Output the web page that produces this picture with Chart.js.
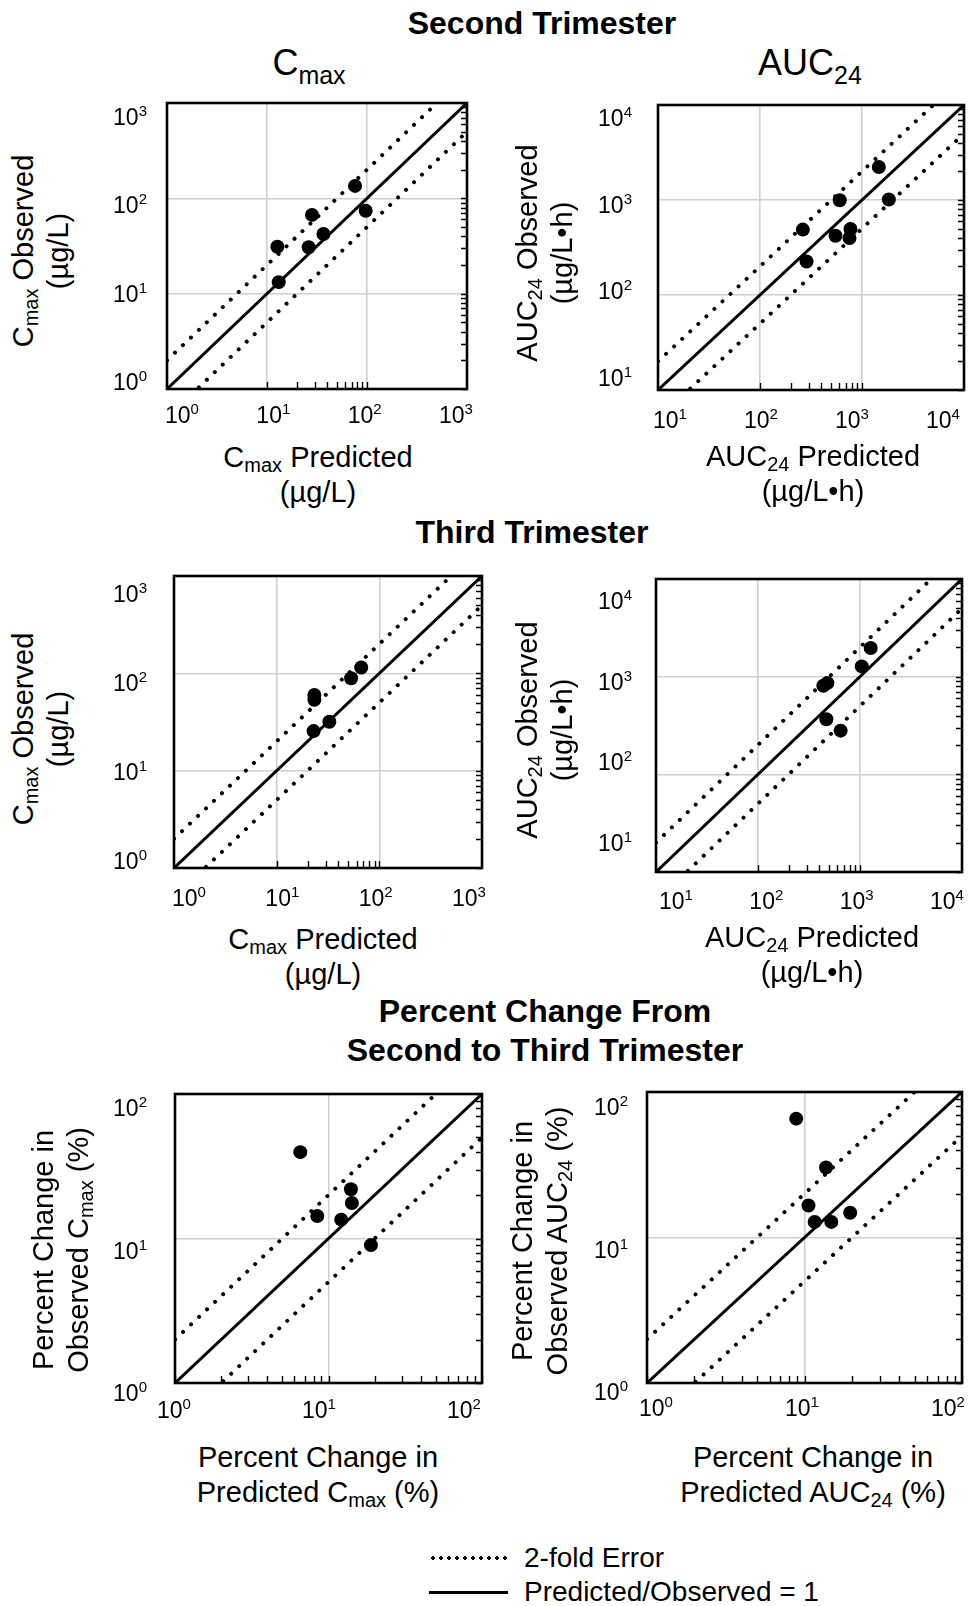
<!DOCTYPE html>
<html>
<head>
<meta charset="utf-8">
<script src="https://cdn.jsdelivr.net/npm/chart.js@4.4.1/dist/chart.umd.min.js"></script>
<style>
  html, body { margin: 0; padding: 0; overflow: hidden; background: #fff; }
  #page { position: relative; width: 970px; height: 1606px; overflow: hidden; background: #fff; }
  canvas { position: absolute; }
  .t { position: absolute; font-family: "Liberation Sans", Arial, sans-serif; color: #000; white-space: nowrap; text-align: center; }
  .h1 { font-size: 32px; font-weight: bold; line-height: 40px; width: 600px; }
  .hd { font-size: 36px; line-height: 44px; width: 200px; }
  .hs { font-size: 25px; line-height: 0; position: relative; top: 9px; }
  .ax { font-size: 29px; line-height: 35px; width: 360px; height: 70px; }
  .s { font-size: 20px; line-height: 0; position: relative; top: 5px; }
  .rot { transform: rotate(-90deg); }
  .leg { position: absolute; }
  .dots { background: radial-gradient(circle at center, #000 1.6px, rgba(0,0,0,0) 2.1px); background-size: 8px 4px; background-repeat: repeat-x; }
  .lt { font-size: 28px; line-height: 34px; text-align: left; }
</style>
</head>
<body>
<div id="page">
  <div class="t h1" style="left:242px;top:3px">Second Trimester</div>
  <div class="t hd" style="left:209px;top:41px">C<span class="hs">max</span></div>
  <div class="t hd" style="left:710px;top:41px">AUC<span class="hs">24</span></div>
  <div class="t h1" style="left:232px;top:512px">Third Trimester</div>
  <div class="t h1" style="left:245px;top:992px;line-height:39px">Percent Change From<br>Second to Third Trimester</div>

  <!-- x axis titles -->
  <div class="t ax" style="left:138px;top:440px">C<span class="s">max</span> Predicted<br>(µg/L)</div>
  <div class="t ax" style="left:633px;top:439px">AUC<span class="s">24</span> Predicted<br>(µg/L•h)</div>
  <div class="t ax" style="left:143px;top:922px">C<span class="s">max</span> Predicted<br>(µg/L)</div>
  <div class="t ax" style="left:632px;top:920px">AUC<span class="s">24</span> Predicted<br>(µg/L•h)</div>
  <div class="t ax" style="left:138px;top:1440px">Percent Change in<br>Predicted C<span class="s">max</span> (%)</div>
  <div class="t ax" style="left:633px;top:1440px">Percent Change in<br>Predicted AUC<span class="s">24</span> (%)</div>

  <!-- y axis titles -->
  <div class="t ax rot" style="left:-139px;top:216px">C<span class="s">max</span> Observed<br>(µg/L)</div>
  <div class="t ax rot" style="left:365px;top:218px">AUC<span class="s">24</span> Observed<br>(µg/L•h)</div>
  <div class="t ax rot" style="left:-139px;top:694px">C<span class="s">max</span> Observed<br>(µg/L)</div>
  <div class="t ax rot" style="left:365px;top:695px">AUC<span class="s">24</span> Observed<br>(µg/L•h)</div>
  <div class="t ax rot" style="left:-119px;top:1215px">Percent Change in<br>Observed C<span class="s">max</span> (%)</div>
  <div class="t ax rot" style="left:360px;top:1206px">Percent Change in<br>Observed AUC<span class="s">24</span> (%)</div>

  <!-- legend -->
  <div class="leg dots" style="left:429px;top:1556px;width:80px;height:4px"></div>
  <div class="leg" style="left:429px;top:1591px;width:79px;height:3px;background:#000"></div>
  <div class="t lt" style="left:524px;top:1541px">2-fold Error<br>Predicted/Observed = 1</div>
</div>
<script>
// axis decades
const cmaxTicks = [1, 10, 100, 1000];
const aucTicks = [10, 100, 1000, 10000];
const pctTicks = [1, 10, 100];

// second trimester
const cmax2ndPred = [12.7, 13.1, 28.2, 26.1, 36.7, 76, 97];
const cmax2ndObs = [31.1, 13.2, 67, 30.7, 42.3, 135, 74];
const auc2ndPred = [1462, 1833, 605, 263, 550, 771, 754, 286];
const auc2ndObs = [2223, 1012, 995, 488, 421, 496, 398, 225];

// third trimester
const cmax3rdPred = [23.3, 23.3, 22.9, 32.6, 53.1, 66.6];
const cmax3rdObs = [60, 53.6, 25.5, 31.8, 89, 115];
const auc3rdPred = [1273, 1040, 479, 437, 468, 646];
const auc3rdObs = [1968, 1274, 859, 806, 366, 280];

// percent change, second to third trimester
const pctCmaxPred = [6.55, 8.45, 12.1, 14.0, 14.2, 18.9];
const pctCmaxObs = [39.6, 14.3, 13.5, 21.9, 17.6, 9.0];
const pctAucPred = [8.86, 13.7, 10.6, 11.6, 14.8, 19.5];
const pctAucObs = [65.6, 30.3, 16.6, 12.8, 12.8, 14.8];

// plot boxes and label placement
const panels = [
  { box: [167, 103, 468, 389], ticks: cmaxTicks, pred: cmax2ndPred, obs: cmax2ndObs, xIn: [15, 11], yIn: [14, 7], gap: 20, xBase: 33, xMinor: [10, 100] },
  { box: [658, 105, 965, 390], ticks: aucTicks, pred: auc2ndPred, obs: auc2ndObs, xIn: [12, 21], yIn: [13, 12], gap: 26, xBase: 37, xMinor: [100, 1000] },
  { box: [174, 576, 483, 868], ticks: cmaxTicks, pred: cmax3rdPred, obs: cmax3rdObs, xIn: [15, 13], yIn: [18, 7], gap: 27, xBase: 37, xMinor: [10, 100] },
  { box: [656, 579, 963, 872], ticks: aucTicks, pred: auc3rdPred, obs: auc3rdObs, xIn: [20, 15], yIn: [22, 29], gap: 24, xBase: 36, xMinor: [100, 1000] },
  { box: [175, 1094, 483, 1383], ticks: pctTicks, pred: pctCmaxPred, obs: pctCmaxObs, xIn: [-1, 18], yIn: [14, -10], gap: 28, xBase: 34, xMinor: [1, 100] },
  { box: [647, 1092, 963, 1383], ticks: pctTicks, pred: pctAucPred, obs: pctAucObs, xIn: [9, 14], yIn: [15, -9], gap: 19, xBase: 32, xMinor: [1, 100] }
];

const PAD = { left: 80, right: 6, top: 14, bottom: 50 };
const BIG = '23px "Liberation Sans", Arial, sans-serif';
const SUP = '15px "Liberation Sans", Arial, sans-serif';

function minorValues(lo, hi) {
  const out = [];
  for (let d = lo; d < hi * 1.0001; d *= 10) {
    for (let k = 1; k <= 9; k++) {
      const v = k * d;
      if (v >= lo * 0.9999 && v <= hi * 1.0001) out.push(v);
    }
  }
  return out;
}

function drawPow(ctx, v, x, baseline, align) {
  const e = String(Math.round(Math.log10(v)));
  ctx.font = BIG;
  const w1 = ctx.measureText('10').width;
  ctx.font = SUP;
  const w2 = ctx.measureText(e).width;
  const x0 = align === 'right' ? x - w1 - w2 : x - (w1 + w2) / 2;
  ctx.font = BIG;
  ctx.fillText('10', x0, baseline);
  ctx.font = SUP;
  ctx.fillText(e, x0 + w1, baseline - 9);
}

function decorFor(p) {
  return {
    id: 'decor',
    afterDraw(chart) {
      const { ctx, chartArea: a, scales: { x, y } } = chart;
      const n = p.ticks.length;
      ctx.save();
      // inside minor ticks, right and bottom edges
      ctx.strokeStyle = '#000';
      ctx.lineWidth = 1.4;
      ctx.beginPath();
      for (const v of minorValues(p.ticks[0], p.ticks[n - 1])) {
        const py = Math.round(y.getPixelForValue(v)) + 0.5;
        ctx.moveTo(a.right, py);
        ctx.lineTo(a.right - 6, py);
      }
      for (const v of minorValues(p.xMinor[0], p.xMinor[1])) {
        const px = Math.round(x.getPixelForValue(v)) + 0.5;
        ctx.moveTo(px, a.bottom);
        ctx.lineTo(px, a.bottom - 7);
      }
      ctx.stroke();
      // frame
      ctx.lineWidth = 2.6;
      ctx.strokeRect(a.left, a.top, a.right - a.left, a.bottom - a.top);
      // tick labels
      ctx.fillStyle = '#000';
      ctx.textAlign = 'left';
      ctx.textBaseline = 'alphabetic';
      const x0 = x.getPixelForValue(p.ticks[0]) + p.xIn[0];
      const x1 = x.getPixelForValue(p.ticks[n - 1]) - p.xIn[1];
      const y0 = y.getPixelForValue(p.ticks[0]) - p.yIn[1];
      const y1 = y.getPixelForValue(p.ticks[n - 1]) + p.yIn[0];
      p.ticks.forEach((v, i) => {
        const f = i / (n - 1);
        drawPow(ctx, v, x0 + (x1 - x0) * f, a.bottom + p.xBase + 1, 'center');
        drawPow(ctx, v, a.left - p.gap, y0 + (y1 - y0) * f + 8, 'right');
      });
      ctx.restore();
    }
  };
}

function axis(p) {
  const lo = p.ticks[0], hi = p.ticks[p.ticks.length - 1];
  return {
    type: 'logarithmic',
    min: lo,
    max: hi,
    afterBuildTicks: s => { s.ticks = p.ticks.map(v => ({ value: v })); },
    ticks: { display: false },
    grid: { color: '#cfcfcf', lineWidth: 1.6, drawTicks: false },
    border: { display: false }
  };
}

const page = document.getElementById('page');
panels.forEach(p => {
  const [L, T, R, B] = p.box;
  const cv = document.createElement('canvas');
  cv.width = R - L + PAD.left + PAD.right;
  cv.height = B - T + PAD.top + PAD.bottom;
  cv.style.left = (L - PAD.left) + 'px';
  cv.style.top = (T - PAD.top) + 'px';
  page.insertBefore(cv, page.firstChild);

  const lo = p.ticks[0], hi = p.ticks[p.ticks.length - 1];
  const refLine = (k, w, dash) => ({
    data: [{ x: lo, y: lo * k }, { x: hi, y: hi * k }],
    showLine: true,
    borderColor: '#000',
    borderWidth: w,
    borderDash: dash,
    borderCapStyle: dash.length ? 'round' : 'butt',
    pointRadius: 0,
    clip: 0
  });

  new Chart(cv, {
    type: 'scatter',
    data: {
      datasets: [
        {
          data: p.pred.map((v, i) => ({ x: v, y: p.obs[i] })),
          pointRadius: 7,
          backgroundColor: '#000',
          borderWidth: 0
        },
        refLine(1, 3, []),
        refLine(2, 4, [0.01, 11]),
        refLine(0.5, 4, [0.01, 11])
      ]
    },
    options: {
      responsive: false,
      animation: false,
      events: [],
      layout: { padding: PAD },
      scales: { x: axis(p), y: axis(p) },
      plugins: { legend: { display: false }, tooltip: { enabled: false } }
    },
    plugins: [decorFor(p)]
  });
});
</script>
</body>
</html>
